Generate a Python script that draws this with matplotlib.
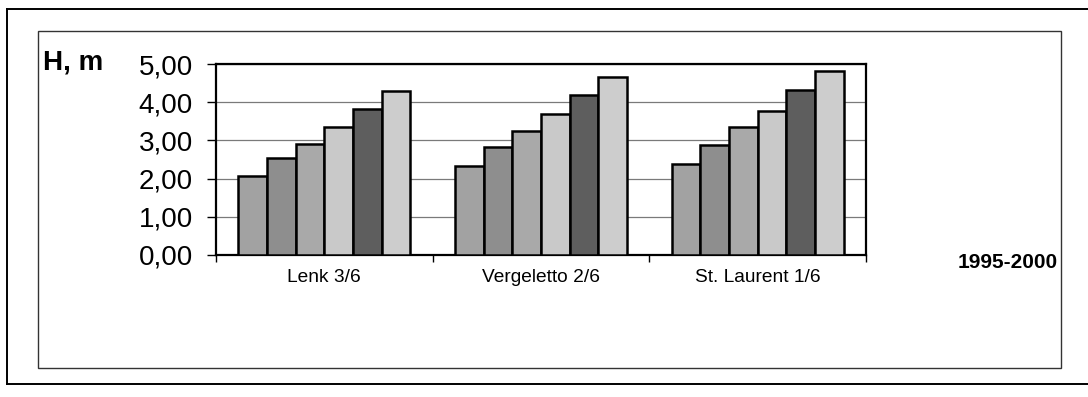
import numpy as np
import matplotlib.pyplot as plt
from matplotlib.lines import Line2D
from matplotlib.patches import Rectangle

plt.rcParams['font.family'] = ['Liberation Sans', 'DejaVu Sans']

# Höhe (m) pro Standort, Aufnahmen 1995-2000
standorte = ["Lenk 3/6", "Vergeletto 2/6", "St. Laurent 1/6"]
h_1995 = [2.07, 2.33, 2.39]
h_1996 = [2.55, 2.84, 2.88]
h_1997 = [2.91, 3.25, 3.36]
h_1998 = [3.35, 3.69, 3.77]
h_1999 = [3.83, 4.19, 4.32]
h_2000 = [4.29, 4.65, 4.82]
serien = [h_1995, h_1996, h_1997, h_1998, h_1999, h_2000]
farben = ['#a2a2a2', '#8e8e8e', '#a9a9a9', '#c9c9c9', '#5e5e5e', '#cdcdcd']
y_ticks = [0, 1, 2, 3, 4, 5]
y_labels = ["0,00", "1,00", "2,00", "3,00", "4,00", "5,00"]

W, H = 1088, 397
fig = plt.figure(figsize=(W / 100, H / 100), dpi=100)

# Rahmen (aussen und innen)
fig.add_artist(Line2D([7 / W, 7 / W], [1 - 9 / H, 1 - 384 / H], color='black', lw=1.4))
fig.add_artist(Line2D([7 / W, 1], [1 - 9 / H, 1 - 9 / H], color='black', lw=1.4))
fig.add_artist(Line2D([7 / W, 1], [1 - 384 / H, 1 - 384 / H], color='black', lw=1.4))
fig.add_artist(Rectangle((38 / W, 1 - 368 / H), (1061 - 38) / W, (368 - 31) / H,
                         fill=False, edgecolor='#333333', lw=1.0))

ax = fig.add_axes([216 / W, 1 - 255 / H, 650 / W, 191 / H])

x = np.arange(len(standorte))
breite = 0.1325
for i, (werte, farbe) in enumerate(zip(serien, farben)):
    ax.bar(x + (i - 2.5) * breite, werte, breite, color=farbe,
           edgecolor='black', linewidth=1.8, zorder=3)

ax.set_xlim(-0.5, 2.5)
ax.set_ylim(0, 5)
ax.set_yticks(y_ticks)
ax.set_yticklabels(y_labels, fontsize=20)
ax.set_xticks(x)
ax.set_xticklabels(standorte, fontsize=13.8)
ax.set_xticks([-0.5, 0.5, 1.5, 2.5], minor=True)
ax.tick_params(axis='x', which='major', length=0, pad=10)
ax.tick_params(axis='x', which='minor', length=5, width=1)
ax.tick_params(axis='y', length=6.5, width=1, pad=10)
ax.yaxis.grid(True, color='#7a7a7a', linewidth=0.9, zorder=0)
for s in ax.spines.values():
    s.set_linewidth(1.6)

fig.text(43 / W, 1 - 62 / H, "H, m", fontsize=20, fontweight='bold', va='center', ha='left')
fig.text(1058 / W, 1 - 263 / H, "1995-2000", fontsize=15, fontweight='bold', va='center', ha='right')

fig.savefig("out.png", dpi=100)
